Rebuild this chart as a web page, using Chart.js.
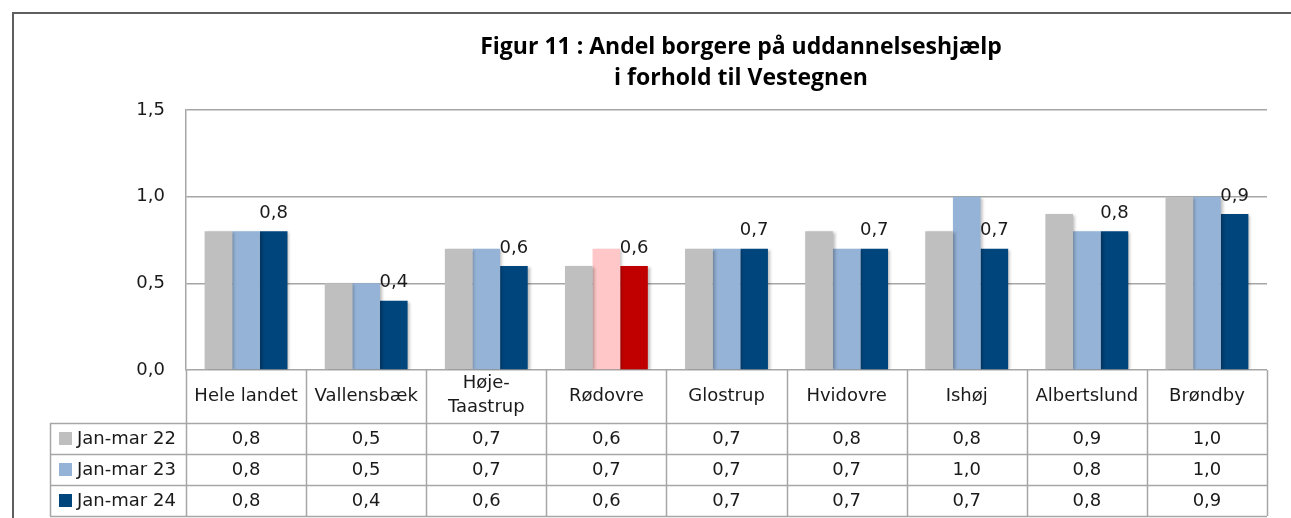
<!DOCTYPE html>
<html>
<head>
<meta charset="utf-8">
<script src="https://cdn.jsdelivr.net/npm/chart.js@4.4.0/dist/chart.umd.min.js"></script>
<style>
  html, body { margin: 0; padding: 0; background: #fff; }
  .wrap { position: relative; width: 1291px; height: 518px; overflow: hidden; }
  .frame { position: absolute; left: 12px; top: 12px; width: 1400px; height: 600px;
           border-left: 2px solid #5f5f5f; border-top: 2px solid #5f5f5f; }
  canvas { position: absolute; left: 0; top: 0; }
</style>
</head>
<body>
<div class="wrap">
  <div class="frame"></div>
  <canvas id="chart" width="1291" height="518"></canvas>
</div>
<script>
const titleLines = ['Figur 11 : Andel borgere på uddannelseshjælp', 'i forhold til Vestegnen']
const categories = ['Hele landet', 'Vallensbæk', ['Høje-', 'Taastrup'], 'Rødovre', 'Glostrup',
  'Hvidovre', 'Ishøj', 'Albertslund', 'Brøndby']
const seriesNames = ['Jan-mar 22', 'Jan-mar 23', 'Jan-mar 24']
const jan22 = [0.8, 0.5, 0.7, 0.6, 0.7, 0.8, 0.8, 0.9, 1.0]
const jan23 = [0.8, 0.5, 0.7, 0.7, 0.7, 0.7, 1.0, 0.8, 1.0]
const jan24 = [0.8, 0.4, 0.6, 0.6, 0.7, 0.7, 0.7, 0.8, 0.9]
const yMin = 0
const yMax = 1.5
const yStep = 0.5

const colors = ['#bfbfbf', '#95b3d7', '#00457c']
const highlight = 'Rødovre'
const highlightColors = ['#bfbfbf', '#ffc7c7', '#c00000']
const FONT = 'DejaVu Sans, sans-serif'

const fmt = (v) => v.toFixed(1).replace('.', ',')

const barColors = (s) => categories.map((c) => (c === highlight ? highlightColors[s] : colors[s]))

const allSeries = [jan22, jan23, jan24]

// shadow behind the bars, like the excel look
const shadowPlugin = {
  id: 'barShadow',
  beforeDatasetsDraw(chart) {
    const ctx = chart.ctx
    ctx.save()
    ctx.shadowColor = 'rgba(0,0,0,0.28)'
    ctx.shadowBlur = 3
    ctx.shadowOffsetX = 2
    ctx.shadowOffsetY = 1
  },
  afterDatasetsDraw(chart) {
    chart.ctx.restore()
  },
}

const titlePlugin = {
  id: 'figTitle',
  afterDraw(chart) {
    const ctx = chart.ctx
    ctx.save()
    ctx.fillStyle = '#000'
    ctx.font = 'bold 23px "Open Sans", sans-serif'
    ctx.textAlign = 'center'
    ctx.textBaseline = 'middle'
    ctx.fillText(titleLines[0], 741, 47)
    ctx.fillText(titleLines[1], 741, 78)
    ctx.restore()
  },
}

// value labels on the last series only
const labelPlugin = {
  id: 'lastLabels',
  afterDatasetsDraw(chart) {
    const ctx = chart.ctx
    const meta = chart.getDatasetMeta(2)
    ctx.save()
    ctx.fillStyle = '#1a1a1a'
    ctx.font = '18px ' + FONT
    ctx.textAlign = 'center'
    ctx.textBaseline = 'middle'
    meta.data.forEach((bar, i) => {
      ctx.fillText(fmt(jan24[i]), bar.x, bar.y - 18)
    })
    ctx.restore()
  },
}

// data table under the plot
const tablePlugin = {
  id: 'dataTable',
  afterDraw(chart) {
    const ctx = chart.ctx
    const area = chart.chartArea
    const xs = chart.scales.x
    const n = categories.length
    const colW = (area.right - area.left) / n
    const headerBottom = area.bottom + 53
    const rowH = 31
    const tableBottom = headerBottom + rowH * 3
    const legendLeft = 50

    ctx.save()
    ctx.strokeStyle = '#a6a6a6'
    ctx.lineWidth = 1.5

    ctx.beginPath()
    for (let i = 0; i <= n; i++) {
      const x = Math.round(area.left + colW * i) + 0.5
      ctx.moveTo(x, area.bottom)
      ctx.lineTo(x, tableBottom)
    }
    for (let r = 0; r <= 3; r++) {
      const y = Math.round(headerBottom + rowH * r) + 0.5
      ctx.moveTo(legendLeft, y)
      ctx.lineTo(area.right, y)
    }
    ctx.moveTo(legendLeft + 0.5, headerBottom)
    ctx.lineTo(legendLeft + 0.5, tableBottom)
    ctx.stroke()

    ctx.fillStyle = '#1a1a1a'
    ctx.font = '18px ' + FONT
    ctx.textAlign = 'center'
    ctx.textBaseline = 'middle'
    categories.forEach((c, i) => {
      const cx = xs.getPixelForValue(i)
      if (Array.isArray(c)) {
        ctx.fillText(c[0], cx, area.bottom + 13)
        ctx.fillText(c[1], cx, area.bottom + 37)
      } else {
        ctx.fillText(c, cx, area.bottom + 26)
      }
    })

    allSeries.forEach((vals, s) => {
      const cy = headerBottom + rowH * s + rowH / 2
      ctx.fillStyle = colors[s]
      ctx.fillRect(59, cy - 6.5, 13, 13)
      ctx.fillStyle = '#1a1a1a'
      ctx.textAlign = 'left'
      ctx.fillText(seriesNames[s], 77, cy + 1)
      ctx.textAlign = 'center'
      vals.forEach((v, i) => {
        ctx.fillText(fmt(v), xs.getPixelForValue(i), cy + 1)
      })
    })
    ctx.restore()
  },
}

const ctx = document.getElementById('chart').getContext('2d')

/* eslint-disable no-new */
new Chart(ctx, {
  type: 'bar',
  data: {
    labels: categories,
    datasets: seriesNames.map((name, s) => ({
      label: name,
      data: allSeries[s],
      backgroundColor: barColors(s),
      borderWidth: 0,
      categoryPercentage: 0.69,
      barPercentage: 1.0,
    })),
  },
  options: {
    responsive: false,
    animation: false,
    layout: { padding: { top: 110, right: 24, bottom: 148, left: 0 } },
    plugins: {
      legend: { display: false },
      tooltip: { enabled: false },
      title: { display: false },
    },
    scales: {
      x: { display: false },
      y: {
        min: yMin,
        max: yMax,
        afterFit: (scale) => { scale.width = 186 },
        ticks: {
          stepSize: yStep,
          padding: 21,
          color: '#1a1a1a',
          font: { family: FONT, size: 18 },
          callback: (v) => fmt(v),
        },
        grid: { color: '#a6a6a6', lineWidth: 1.5, drawTicks: false },
        border: { color: '#a6a6a6', width: 1.5 },
      },
    },
  },
  plugins: [shadowPlugin, labelPlugin, tablePlugin, titlePlugin],
})
</script>
</body>
</html>
